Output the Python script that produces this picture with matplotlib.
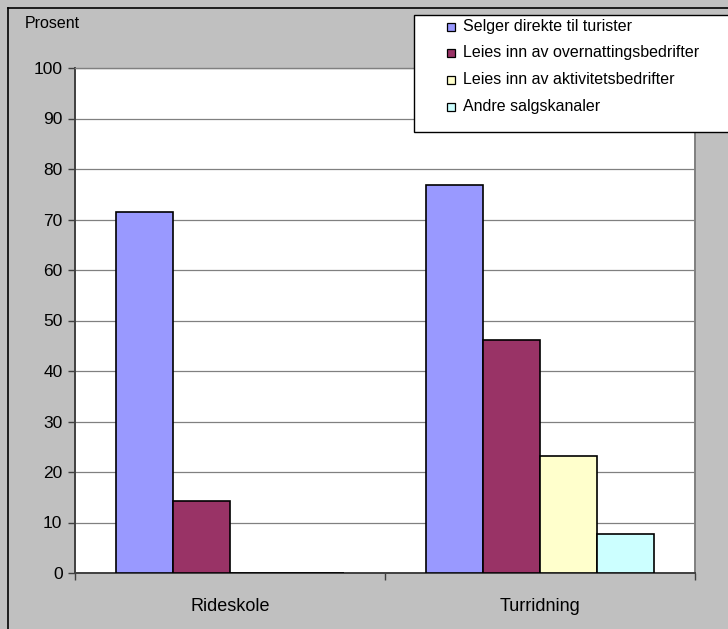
import numpy as np
import matplotlib.pyplot as plt
from matplotlib.patches import Rectangle
from matplotlib.lines import Line2D

plt.rcParams["font.family"] = ["Liberation Sans", "DejaVu Sans"]

categories = ["Rideskole", "Turridning"]
series_names = [
    "Selger direkte til turister",
    "Leies inn av overnattingsbedrifter",
    "Leies inn av aktivitetsbedrifter",
    "Andre salgskanaler",
]
selger_direkte = [71.4, 76.9]
overnatting = [14.3, 46.2]
aktivitet = [0.0, 23.1]
andre = [0.0, 7.7]
y_ticks = [0, 10, 20, 30, 40, 50, 60, 70, 80, 90, 100]

colors = ["#9999FF", "#993366", "#FFFFCC", "#CCFFFF"]
BG = "#C0C0C0"

W, H = 728, 629
fig = plt.figure(figsize=(W / 100, H / 100), dpi=100)
fig.patch.set_facecolor(BG)

# outer chart frame (left and top edges visible)
fig.add_artist(Line2D([8 / W, 8 / W], [0, 1 - 8 / H], transform=fig.transFigure,
                      color="black", lw=1.2))
fig.add_artist(Line2D([8 / W, 1], [1 - 8 / H, 1 - 8 / H], transform=fig.transFigure,
                      color="black", lw=1.2))

left, right, top, bottom = 75, 695, 68, 573
ax = fig.add_axes([left / W, 1 - bottom / H, (right - left) / W, (bottom - top) / H])
ax.set_facecolor("white")

data = [selger_direkte, overnatting, aktivitet, andre]
x = np.arange(len(categories))
bw = 0.184
for i, (vals, name, c) in enumerate(zip(data, series_names, colors)):
    ax.bar(x + (i - 1.5) * bw, vals, width=bw, color=c, edgecolor="black",
           linewidth=1.2, label=name, zorder=3)

ax.set_xlim(-0.5, len(categories) - 0.5)
ax.set_ylim(0, 100)
ax.set_yticks(y_ticks)
ax.set_yticklabels([str(t) for t in y_ticks], fontsize=12.5)
ax.yaxis.grid(True, color="#808080", linewidth=0.9, zorder=0)
ax.set_axisbelow(True)

ax.set_xticks([-0.5, 0.5, 1.5])
ax.set_xticklabels([])
ax.set_xticks(x, minor=True)
ax.set_xticklabels(categories, minor=True, fontsize=13)
ax.tick_params(axis="x", which="minor", length=0, pad=18)
ax.tick_params(axis="x", which="major", length=5, width=1, color="#404040", direction="out")
ax.tick_params(axis="y", length=5, width=1, color="#404040", direction="out", pad=4)

for s in ["left", "bottom"]:
    ax.spines[s].set_color("#404040")
    ax.spines[s].set_linewidth(1.4)
ax.spines["top"].set_color("#808080")
ax.spines["right"].set_color("#808080")
ax.spines["top"].set_linewidth(1.0)
ax.spines["right"].set_linewidth(1.4)

fig.text(25 / W, 1 - 24 / H, "Prosent", fontsize=11.5, va="center", ha="left")

# legend box
fig.add_artist(Rectangle((414 / W, 1 - 132 / H), (W - 414) / W + 0.01, 117 / H,
                         transform=fig.transFigure, facecolor="white",
                         edgecolor="black", linewidth=1.0, zorder=5))
row_y = [27, 53, 80, 107]
for name, c, yy in zip(series_names, colors, row_y):
    fig.add_artist(Rectangle((447 / W, 1 - (yy + 4) / H), 8 / W, 8 / H,
                             transform=fig.transFigure, facecolor=c,
                             edgecolor="black", linewidth=0.9, zorder=6))
    fig.text(463 / W, 1 - yy / H, name, fontsize=11.5, va="center", ha="left", zorder=7)

fig.savefig("out.png", dpi=100, facecolor=BG)
